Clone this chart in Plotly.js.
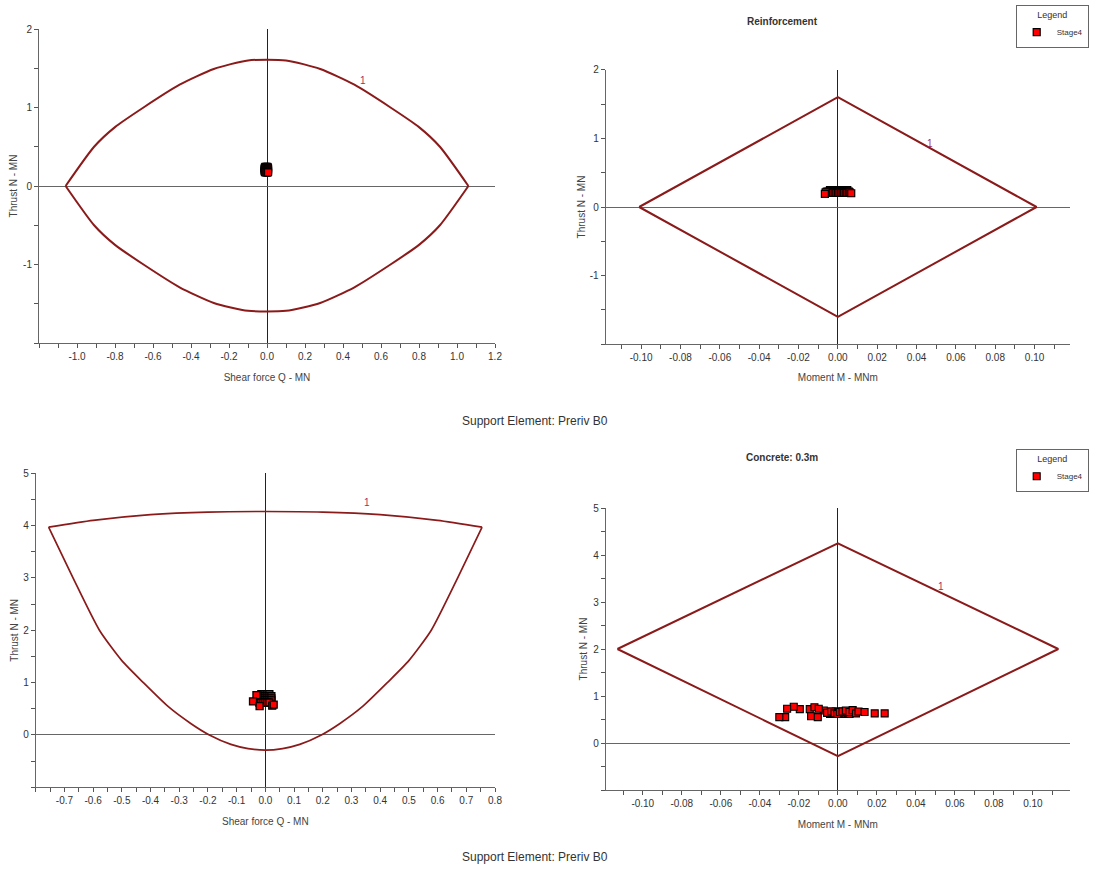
<!DOCTYPE html>
<html>
<head>
<meta charset="utf-8">
<script src="https://cdn.plot.ly/plotly-3.0.1.min.js"></script>
<style>
html,body{margin:0;padding:0;background:#fff;}
#chart{width:1099px;height:879px;}
</style>
</head>
<body>
<div id="chart"></div>
<script>
// ---------------- DATA ----------------
// Top-left: shear envelope (Reinforcement) - upper and lower arcs
const envTL_topQ = [-1.06,-0.91,-0.80,-0.65,-0.46,-0.28,-0.10,0.10,0.28,0.46,0.65,0.80,0.91,1.06];
const envTL_topN = [0,0.50,0.75,1.00,1.29,1.49,1.60,1.60,1.49,1.29,1.00,0.75,0.50,0];
const envTL_botQ = [-1.06,-0.91,-0.80,-0.65,-0.46,-0.28,-0.10,0.10,0.28,0.46,0.65,0.80,0.91,1.06];
const envTL_botN = [0,-0.50,-0.75,-1.00,-1.29,-1.49,-1.59,-1.59,-1.49,-1.29,-1.00,-0.75,-0.50,0];
const ptsTL_Q = [-0.011,-0.006,-0.001,0.004,
                 -0.013,-0.008,-0.003,0.002,0.006,
                 -0.013,-0.008,-0.003,0.002,0.006,
                 -0.013,-0.008,-0.003,0.002,0.006,
                 -0.013,-0.008,-0.003,0.002,0.006,
                 -0.013,-0.008,-0.003,0.002,0.006,
                 -0.011,-0.006,-0.001,0.004,0.006];
const ptsTL_N = [0.245,0.245,0.245,0.245,
                 0.232,0.232,0.232,0.232,0.232,
                 0.220,0.220,0.220,0.220,0.220,
                 0.207,0.207,0.207,0.207,0.207,
                 0.194,0.194,0.194,0.194,0.194,
                 0.181,0.181,0.181,0.181,0.181,
                 0.172,0.172,0.172,0.172,0.172];

// Top-right: moment envelope (Reinforcement)
const envTR_M = [-0.101,0,0.101,0,-0.101];
const envTR_N = [0,1.60,0,-1.60,0];
const ptsTR_M = [-0.0040,-0.0032,-0.0024,-0.0016,-0.0008,0.0000,0.0008,0.0016,0.0024,0.0032,0.0040,0.0048,
                 -0.0056,-0.0048,-0.0040,-0.0032,-0.0024,-0.0016,-0.0008,0.0000,0.0008,0.0016,0.0024,0.0032,0.0040,0.0048,0.0056,
                 -0.0056,-0.0048,-0.0040,-0.0032,-0.0024,-0.0016,-0.0008,0.0000,0.0008,0.0016,0.0024,0.0032,0.0040,0.0048,0.0056,
                 -0.0062,-0.0066,0.0060,0.0068];
const ptsTR_N = [0.245,0.245,0.245,0.245,0.245,0.245,0.245,0.245,0.245,0.245,0.245,0.245,
                 0.225,0.225,0.225,0.225,0.225,0.225,0.225,0.225,0.225,0.225,0.225,0.225,0.225,0.225,0.225,
                 0.205,0.205,0.205,0.205,0.205,0.205,0.205,0.205,0.205,0.205,0.205,0.205,0.205,0.205,0.205,
                 0.215,0.190,0.215,0.200];

// Bottom-left: shear envelope (Concrete 0.3m) - cap arc and bowl
const envBL_topQ = [-0.755,-0.60,-0.40,-0.20,0,0.20,0.40,0.60,0.755];
const envBL_topN = [3.97,4.10,4.21,4.26,4.27,4.26,4.21,4.10,3.97];
const envBL_bowlQ = [0.755,0.67,0.578,0.50,0.425,0.34,0.26,0.195,0.12,0.06,0,
                     -0.06,-0.12,-0.195,-0.26,-0.34,-0.425,-0.50,-0.578,-0.67,-0.755];
const envBL_bowlN = [3.97,3.00,2.00,1.42,1.00,0.55,0.22,0,-0.18,-0.26,-0.29,
                     -0.26,-0.18,0,0.22,0.55,1.00,1.42,2.00,3.00,3.97];
const ptsBL_Q = [-0.014,-0.007,0.000,0.007,0.014,
                 -0.021,-0.014,-0.007,0.000,0.007,0.014,0.021,
                 -0.028,-0.021,-0.014,-0.007,0.000,0.007,0.014,0.021,
                 -0.028,-0.021,-0.014,-0.007,0.000,0.007,0.014,0.021,
                 -0.021,-0.014,-0.007,0.000,0.007,0.014,
                 -0.031,-0.043,-0.020,0.024,0.029];
const ptsBL_N = [0.78,0.78,0.78,0.78,0.78,
                 0.74,0.74,0.74,0.74,0.74,0.74,0.74,
                 0.70,0.70,0.70,0.70,0.70,0.70,0.70,0.70,
                 0.66,0.66,0.66,0.66,0.66,0.66,0.66,0.66,
                 0.62,0.62,0.62,0.62,0.62,0.62,
                 0.76,0.64,0.55,0.56,0.58];

// Bottom-right: moment envelope (Concrete 0.3m)
const envBR_M = [-0.113,0,0.113,0,-0.113];
const envBR_N = [2.00,4.25,2.00,-0.28,2.00];
const ptsBR_M = [-0.004,-0.003,-0.002,-0.001,0.000,0.001,0.002,0.003,0.004,0.005,0.006,
                 -0.004,-0.003,-0.002,-0.001,0.000,0.001,0.002,0.003,0.004,0.005,0.006,
                 -0.0072,-0.0055,-0.0034,-0.0017,-0.0003,0.0010,0.0024,0.0041,0.0059,0.0076,0.0093,0.0106,
                 -0.0144,-0.0120,-0.0098,-0.0137,-0.0103,0.0137,0.0189,0.0240,-0.0195,-0.0226,-0.0260,-0.0270,-0.0300];
const ptsBR_N = [0.66,0.67,0.66,0.67,0.66,0.67,0.66,0.67,0.66,0.67,0.66,
                 0.62,0.63,0.62,0.63,0.62,0.63,0.62,0.63,0.62,0.63,0.62,
                 0.69,0.64,0.67,0.63,0.62,0.66,0.67,0.69,0.66,0.70,0.63,0.67,
                 0.72,0.76,0.73,0.57,0.55,0.66,0.63,0.63,0.72,0.77,0.73,0.55,0.55];

// Tick labels
const tickTL_x = [-1.0,-0.8,-0.6,-0.4,-0.2,0.0,0.2,0.4,0.6,0.8,1.0,1.2];
const tickTL_xt = ["-1.0","-0.8","-0.6","-0.4","-0.2","0.0","0.2","0.4","0.6","0.8","1.0","1.2"];
const tickTop_y = [-1,0,1,2];
const tickTop_yt = ["-1","0","1","2"];
const tickM_x = [-0.10,-0.08,-0.06,-0.04,-0.02,0,0.02,0.04,0.06,0.08,0.10];
const tickM_xt = ["-0.10","-0.08","-0.06","-0.04","-0.02","0.00","0.02","0.04","0.06","0.08","0.10"];
const tickBL_x = [-0.7,-0.6,-0.5,-0.4,-0.3,-0.2,-0.1,0,0.1,0.2,0.3,0.4,0.5,0.6,0.7,0.8];
const tickBL_xt = ["-0.7","-0.6","-0.5","-0.4","-0.3","-0.2","-0.1","0.0","0.1","0.2","0.3","0.4","0.5","0.6","0.7","0.8"];
const tickBot_y = [0,1,2,3,4,5];
const tickBot_yt = ["0","1","2","3","4","5"];

const seriesName = "Stage4";
const envColor = "#8b1a1a";

// ---------------- LAYOUT HELPERS ----------------
const W = 1099, H = 879;
const FONT = "Liberation Sans, Arial, sans-serif";
function xd(a,b){return [a/W,b/W];}
function yd(top,bottom){return [1-bottom/H,1-top/H];}

function axis(dom, range, tv, tt, minorD, title, anchor, isY, standoff){
  return {
    domain: dom, range: range, anchor: anchor,
    showline: true, linecolor: "#666", linewidth: 1,
    ticks: "outside", ticklen: 4, tickcolor: "#555", tickwidth: 1,
    tickmode: "array", tickvals: tv, ticktext: tt,
    tickfont: {family: FONT, size: 10, color: "#333"},
    showgrid: false,
    zeroline: true, zerolinecolor: isY ? "#666" : "#222", zerolinewidth: 1,
    minor: {ticks: "outside", ticklen: 4, tickcolor: "#555", dtick: minorD, tick0: 0, showgrid: false},
    title: {text: title, font: {family: FONT, size: 10, color: "#444"}, standoff: standoff},
    fixedrange: true
  };
}

function mk(w){return {symbol: "square", size: 7, color: "#ff0000", line: {color: "#000", width: w}};}
const lineTop = {color: envColor, width: 2, shape: "spline", smoothing: 0.6};
const lineBL = {color: envColor, width: 1.7, shape: "spline", smoothing: 0.6};

const traces = [
  {x: envTL_topQ, y: envTL_topN, xaxis: "x", yaxis: "y", mode: "lines", line: lineTop, showlegend: false, hoverinfo: "skip"},
  {x: envTL_botQ, y: envTL_botN, xaxis: "x", yaxis: "y", mode: "lines", line: lineTop, showlegend: false, hoverinfo: "skip"},
  {x: ptsTL_Q, y: ptsTL_N, xaxis: "x", yaxis: "y", mode: "markers", marker: mk(1), name: seriesName, showlegend: false},
  {x: envTR_M, y: envTR_N, xaxis: "x2", yaxis: "y2", mode: "lines", line: {color: envColor, width: 2}, showlegend: false, hoverinfo: "skip"},
  {x: ptsTR_M, y: ptsTR_N, xaxis: "x2", yaxis: "y2", mode: "markers", marker: mk(1.2), name: seriesName, showlegend: true, legend: "legend"},
  {x: envBL_topQ, y: envBL_topN, xaxis: "x3", yaxis: "y3", mode: "lines", line: lineBL, showlegend: false, hoverinfo: "skip"},
  {x: envBL_bowlQ, y: envBL_bowlN, xaxis: "x3", yaxis: "y3", mode: "lines", line: lineBL, showlegend: false, hoverinfo: "skip"},
  {x: ptsBL_Q, y: ptsBL_N, xaxis: "x3", yaxis: "y3", mode: "markers", marker: mk(1.3), name: seriesName, showlegend: false},
  {x: envBR_M, y: envBR_N, xaxis: "x4", yaxis: "y4", mode: "lines", line: {color: envColor, width: 2}, showlegend: false, hoverinfo: "skip"},
  {x: ptsBR_M, y: ptsBR_N, xaxis: "x4", yaxis: "y4", mode: "markers", marker: mk(1.1), name: seriesName, showlegend: true, legend: "legend2"}
];

const legendBase = {
  xanchor: "left", yanchor: "top",
  bgcolor: "#fff", bordercolor: "#666", borderwidth: 1,
  font: {family: FONT, size: 8, color: "#333"},
  title: {text: "Legend", side: "top center", font: {family: FONT, size: 9, color: "#333"}},
  itemwidth: 30, tracegroupgap: 0, entrywidth: 44
};

const labelFont = {family: FONT, size: 10, color: "#a03060"};
const layout = {
  width: W, height: H,
  margin: {l: 0, r: 0, t: 0, b: 0},
  paper_bgcolor: "#fff", plot_bgcolor: "#fff",
  font: {family: FONT, color: "#333"},
  xaxis:  axis(xd(39,495), [-1.2,1.2], tickTL_x, tickTL_xt, 0.1, "Shear force Q - MN", "y", false, 12),
  yaxis:  axis(yd(29,343), [-2,2], tickTop_y, tickTop_yt, 0.5, "Thrust N - MN", "x", true, 3),
  xaxis2: axis(xd(605.7,1070), [-0.118,0.118], tickM_x, tickM_xt, 0.01, "Moment M - MNm", "y2", false, 11),
  yaxis2: axis(yd(69.7,344.3), [-2,2], tickTop_y, tickTop_yt, 0.5, "Thrust N - MN", "x2", true, 2),
  xaxis3: axis(xd(35.7,495), [-0.8,0.8], tickBL_x, tickBL_xt, 0.05, "Shear force Q - MN", "y3", false, 12),
  yaxis3: axis(yd(473.3,787.3), [-1,5], tickBot_y, tickBot_yt, 0.5, "Thrust N - MN", "x3", true, 2),
  xaxis4: axis(xd(605.7,1070), [-0.119,0.119], tickM_x, tickM_xt, 0.01, "Moment M - MNm", "y4", false, 12),
  yaxis4: axis(yd(508,790), [-1,5], tickBot_y, tickBot_yt, 0.5, "Thrust N - MN", "x4", true, 3),
  legend:  Object.assign({}, legendBase, {x: 1015.7/W, y: 1-5/H}),
  legend2: Object.assign({}, legendBase, {x: 1015.7/W, y: 1-449/H}),
  showlegend: true,
  annotations: [
    {text: "<b>Reinforcement</b>", xref: "paper", yref: "paper", x: 820/W, y: 1-14/H, showarrow: false, font: {family: FONT, size: 10, color: "#333"}},
    {text: "<b>Concrete: 0.3m</b>", xref: "paper", yref: "paper", x: 820/W, y: 1-457/H, showarrow: false, font: {family: FONT, size: 10, color: "#333"}},
    {text: "Support Element: Preriv B0", xref: "paper", yref: "paper", x: 535/W, y: 1-421/H, showarrow: false, font: {family: FONT, size: 12, color: "#333"}},
    {text: "Support Element: Preriv B0", xref: "paper", yref: "paper", x: 535/W, y: 1-866/H, showarrow: false, font: {family: FONT, size: 12, color: "#333"}},
    {text: "1", xref: "x", yref: "y", x: 0.505, y: 1.35, showarrow: false, font: labelFont},
    {text: "1", xref: "x2", yref: "y2", x: 0.047, y: 0.93, showarrow: false, font: labelFont},
    {text: "1", xref: "x3", yref: "y3", x: 0.353, y: 4.44, showarrow: false, font: labelFont},
    {text: "1", xref: "x4", yref: "y4", x: 0.053, y: 3.32, showarrow: false, font: labelFont}
  ]
};

Plotly.newPlot("chart", traces, layout, {displayModeBar: false, staticPlot: true});
</script>
</body>
</html>
